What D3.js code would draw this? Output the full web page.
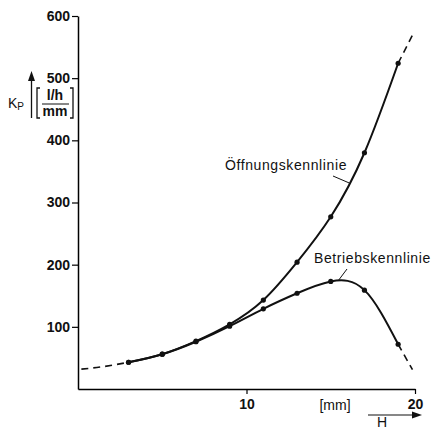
<!DOCTYPE html>
<html>
<head>
<meta charset="utf-8">
<script src="https://cdn.jsdelivr.net/npm/d3@7"></script>
<style>
  body { margin: 0; background: #fff; }
  svg { display: block; font-family: "Liberation Sans", Arial, sans-serif; }
  .tick text { font-size: 14px; font-weight: bold; fill: #111; }
  .lbl { font-size: 14px; fill: #111; }
</style>
</head>
<body>
<svg id="chart"></svg>
<script>
// H in mm, Kp in (l/h)/mm
const hValues = [3, 5, 7, 9, 11, 13, 15, 17, 19];
const oeffnung = [43, 56, 77, 104, 143, 204, 277, 380, 524];
const betrieb = [43, 56, 76, 101, 129, 154, 173, 159, 72];

// dashed extrapolated parts
const leftDashH = [0.2, 1.5, 3];
const leftDashK = [32, 36, 43];
const oeffDashH = [19, 19.9];
const oeffDashK = [524, 572];
const betrDashH = [19, 19.85];
const betrDashK = [72, 31];

const yTicks = [100, 200, 300, 400, 500, 600];
const xTicks = [10, 20];

const width = 435, height = 430;
const svg = d3.select("#chart").attr("width", width).attr("height", height);

const x = d3.scaleLinear().domain([0, 20]).range([78, 415]);
const y = d3.scaleLinear().domain([0, 600]).range([389, 16]);

// axes
svg.append("g")
    .attr("transform", `translate(${x(0)},0)`)
    .call(d3.axisLeft(y).tickValues(yTicks).tickSize(6).tickSizeOuter(0).tickPadding(2))
    .call(g => g.select(".domain").attr("stroke-width", 1.5))
    .call(g => g.selectAll(".tick line").attr("stroke-width", 1.2));

svg.append("g")
    .attr("transform", `translate(0,${y(0)})`)
    .call(d3.axisBottom(x).tickValues(xTicks).tickSize(5).tickSizeOuter(0).tickPadding(5))
    .call(g => g.select(".domain").attr("stroke-width", 1.5))
    .call(g => g.selectAll(".tick line").attr("stroke-width", 1.2));

const line = d3.line()
    .x(d => x(d[0]))
    .y(d => y(d[1]))
    .curve(d3.curveNatural);

const zip = (a, b) => a.map((v, i) => [v, b[i]]);

// solid curves
[oeffnung, betrieb].forEach(vals => {
    svg.append("path")
        .datum(zip(hValues, vals))
        .attr("fill", "none")
        .attr("stroke", "#111")
        .attr("stroke-width", 2)
        .attr("d", line);
});

// dashed extensions
[[leftDashH, leftDashK], [oeffDashH, oeffDashK], [betrDashH, betrDashK]].forEach(([hs, ks]) => {
    svg.append("path")
        .datum(zip(hs, ks))
        .attr("fill", "none")
        .attr("stroke", "#111")
        .attr("stroke-width", 1.6)
        .attr("stroke-dasharray", "7,5")
        .attr("d", line);
});

// measured points
[oeffnung, betrieb].forEach(vals => {
    svg.append("g").selectAll("circle")
        .data(zip(hValues, vals))
        .join("circle")
        .attr("cx", d => x(d[0]))
        .attr("cy", d => y(d[1]))
        .attr("r", 2.6)
        .attr("fill", "#111");
});

// curve labels with leader lines
svg.append("text").attr("class", "lbl").attr("letter-spacing", 0.6)
    .attr("x", 225).attr("y", 170).text("Öffnungskennlinie");
svg.append("line")
    .attr("x1", 333).attr("y1", 176).attr("x2", x(16.1)).attr("y2", 183)
    .attr("stroke", "#111").attr("stroke-width", 1);

svg.append("text").attr("class", "lbl").attr("letter-spacing", 0.6)
    .attr("x", 314).attr("y", 263).text("Betriebskennlinie");
svg.append("line")
    .attr("x1", 347).attr("y1", 269).attr("x2", 338).attr("y2", 281)
    .attr("stroke", "#111").attr("stroke-width", 1);

// x axis unit and arrow
svg.append("text").attr("class", "lbl").attr("font-size", 13)
    .attr("x", 335).attr("y", 410).attr("text-anchor", "middle").text("[mm]");
svg.append("line")
    .attr("x1", 368).attr("y1", 415).attr("x2", 412).attr("y2", 415)
    .attr("stroke", "#111").attr("stroke-width", 1.2);
svg.append("path")
    .attr("d", "M412,411.5 L422,415 L412,418.5 Z").attr("fill", "#111");
svg.append("text").attr("class", "lbl").attr("font-size", 11)
    .attr("x", 382).attr("y", 427).attr("text-anchor", "middle").text("H");

// y axis label: arrow, Kp, unit fraction
svg.append("line")
    .attr("x1", 31.5).attr("y1", 118).attr("x2", 31.5).attr("y2", 80)
    .attr("stroke", "#111").attr("stroke-width", 1.3);
svg.append("path")
    .attr("d", "M28,81 L31.5,71 L35,81 Z").attr("fill", "#111");

const kp = svg.append("text").attr("class", "lbl").attr("font-size", 14).attr("x", 8).attr("y", 108);
kp.append("tspan").text("K");
kp.append("tspan").attr("font-size", 10).attr("dy", 2).text("P");

svg.append("path")
    .attr("d", "M40,88 L37,88 L37,118 L40,118")
    .attr("fill", "none").attr("stroke", "#111").attr("stroke-width", 1.3);
svg.append("path")
    .attr("d", "M70,88 L73,88 L73,118 L70,118")
    .attr("fill", "none").attr("stroke", "#111").attr("stroke-width", 1.3);
svg.append("text").attr("class", "lbl").attr("font-size", 11).attr("font-weight", "bold")
    .attr("x", 55).attr("y", 100).attr("text-anchor", "middle").text("l/h");
svg.append("line")
    .attr("x1", 42).attr("y1", 104).attr("x2", 69).attr("y2", 104)
    .attr("stroke", "#111").attr("stroke-width", 1);
svg.append("text").attr("class", "lbl").attr("font-size", 11).attr("font-weight", "bold")
    .attr("x", 55).attr("y", 116).attr("text-anchor", "middle").text("mm");
</script>
</body>
</html>
